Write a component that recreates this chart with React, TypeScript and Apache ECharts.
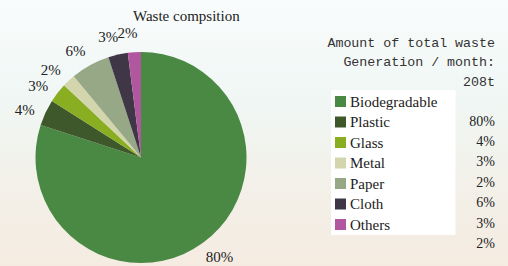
import React, { useEffect, useRef } from "react";
import * as echarts from "echarts";

const categories = ["Biodegradable", "Plastic", "Glass", "Metal", "Paper", "Cloth", "Others"];
const values = [80, 4, 3, 2, 6, 3, 2];
const colors = ["#4a8944", "#3e582c", "#8aae22", "#d3d5ad", "#97a886", "#3f3746", "#b157a0"];
const infoLines = ["Amount of total waste", "Generation / month:", "208t"];
const titleText = "Waste compsition";

export default function App() {
  const ref = useRef<HTMLDivElement>(null);
  useEffect(() => {
    document.body.style.margin = "0";
    const chart = echarts.init(ref.current!, null, { renderer: "svg" });
    const serif = "'Liberation Serif', 'Times New Roman', serif";
    const mono = "'Liberation Mono', 'DejaVu Sans Mono', monospace";
    const graphics: any[] = [];
    infoLines.forEach((t, i) => {
      graphics.push({
        type: "text",
        right: 13,
        top: 37 + i * 19.3,
        style: { text: t, font: `13.3px ${mono}`, fill: "#333", textAlign: "right" },
      });
    });
    values.forEach((v, i) => {
      graphics.push({
        type: "text",
        right: 13,
        top: 114 + i * 20.4,
        style: { text: v + "%", font: `14px ${serif}`, fill: "#222", textAlign: "right" },
      });
    });
    const data = categories.map((c, i) => ({ name: c, value: values[i] }));
    chart.setOption({
      animation: false,
      backgroundColor: "transparent",
      color: colors,
      title: {
        text: titleText,
        left: 133,
        top: 8,
        padding: 0,
        textStyle: { fontFamily: serif, fontSize: 15, fontWeight: "normal", color: "#222" },
      },
      legend: {
        orient: "vertical",
        left: 331,
        top: 90,
        backgroundColor: "#ffffff",
        padding: [4, 18, 3, 4],
        itemWidth: 11,
        itemHeight: 11,
        itemGap: 5.5,
        icon: "rect",
        selectedMode: false,
        textStyle: { fontFamily: serif, fontSize: 15, color: "#222", padding: [0, 0, 0, -1] },
        data: categories.map((c, i) => ({ name: c, itemStyle: { color: colors[i] } })),
      },
      graphic: graphics,
      series: [
        {
          type: "pie",
          name: "Waste",
          center: [141, 157.5],
          radius: 105.5,
          startAngle: 90,
          clockwise: true,
          z: 2,
          label: { show: false },
          labelLine: { show: false },
          itemStyle: { borderWidth: 0 },
          data,
        },
        {
          type: "pie",
          name: "labels",
          center: [141, 157.5],
          radius: [0, 246],
          startAngle: 92.5,
          clockwise: true,
          silent: true,
          z: 1,
          avoidLabelOverlap: false,
          itemStyle: { color: "rgba(0,0,0,0)", borderWidth: 0 },
          label: {
            show: true,
            position: "inside",
            formatter: "{c}%",
            fontFamily: serif,
            fontSize: 15,
            color: "#222",
            textBorderWidth: 0,
            offset: [0, 1],
          },
          labelLine: { show: false },
          labelLayout: { hideOverlap: false },
          emphasis: { disabled: true },
          data,
        },
      ],
    });
    return () => chart.dispose();
  }, []);
  return (
    <div
      ref={ref}
      style={{
        width: 508,
        height: 266,
        background: "linear-gradient(180deg, #f9fcfc 0%, #f0f7f5 35%, #f2f1ea 65%, #f5ebe1 100%)",
      }}
    />
  );
}
